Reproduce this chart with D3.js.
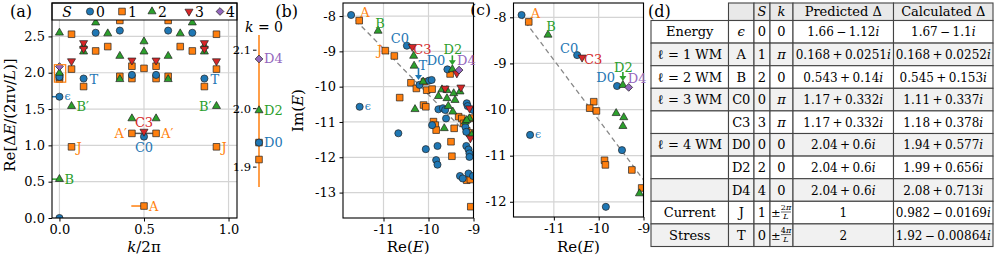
<!DOCTYPE html>
<html><head><meta charset="utf-8">
<script src="https://cdn.jsdelivr.net/npm/d3@7"></script>
<style>
body{margin:0;background:#fff;}
svg{display:block;}
</style></head><body>
<svg id="chart" width="995" height="260"></svg>
<script>
// ================= DATA =================
const spinLabels = ["0","1","2","3","4"];
const colors = ["#1f77b4","#ff7f0e","#2ca02c","#d62728","#9467bd"];
const L = 14;
// panel (a): [n, Re dE/(2pi v/L)], k/2pi = n/L ; n=1..6 mirrored to L-n
const aS0 = [[0,0.0],[0,1.67],[0,1.942],[2,1.92],[3,2.55],[5,2.58],[6,1.97],[7,1.12]];
const aS1 = [[0,1.913],[0,1.942],[1,2.53],[1,2.05],[1,0.98],[2,1.81],[3,2.30],[4,2.36],[5,1.95],[5,2.72],[6,2.09],[6,1.92],[6,1.165],[7,2.06],[7,0.165]];
const aS2 = [[0,0.535],[0,1.997],[0,2.55],[1,1.54],[2,2.37],[2,2.29],[3,2.69],[4,2.54],[5,2.23],[5,1.91],[6,1.37],[7,2.43],[7,2.29]];
const aS3 = [[1,2.16],[2,2.41],[2,2.33],[6,2.17],[7,1.19]];
const aS4 = [[0,2.085]];
const aXTicks = [0, 0.5, 1.0];
const aYTicks = [0, 0.5, 1.0, 1.5, 2.0, 2.5];
// inset (k = 0)
const insetTicks = [1.9, 2.0, 2.1];
const inS0 = [1.942], inS1 = [1.913, 1.942], inS2 = [1.997], inS4 = [2.085];
// panel (b): [Re E, Im E]
const bS0 = [[-11.72,-7.97],[-10.48,-8.84],[-10.20,-9.95],[-9.99,-9.83],[-9.93,-9.81],[-11.53,-10.57],[-10.67,-11.32],[-10.06,-11.77],[-9.80,-11.68],[-9.83,-12.08],[-9.80,-12.21],[-9.78,-10.64],[-9.92,-11.09],[-9.58,-9.51],[-9.68,-10.61],[-9.63,-10.66],[-9.61,-10.90],[-9.15,-10.47],[-9.13,-10.55],[-9.01,-10.66],[-9.18,-11.14],[-9.16,-11.28],[-9.16,-11.68],[-9.11,-11.78],[-9.09,-11.89],[-9.09,-11.99],[-9.30,-12.53],[-9.24,-12.60],[-9.11,-12.46],[-9.01,-12.53]];
const bS1 = [[-11.54,-8.13],[-10.96,-8.98],[-10.76,-9.13],[-10.39,-9.89],[-10.27,-10.05],[-10.04,-10.10],[-10.09,-9.86],[-10.64,-10.31],[-10.11,-10.52],[-10.06,-10.57],[-9.89,-10.99],[-9.85,-11.09],[-9.83,-11.23],[-9.52,-9.64],[-9.43,-11.18],[-9.33,-10.85],[-9.26,-10.90],[-9.22,-11.04],[-9.15,-11.25],[-9.09,-11.31],[-9.50,-11.56],[-9.48,-11.97],[-9.15,-12.65],[-9.07,-12.63],[-9.06,-13.40],[-9.92,-10.07],[-9.03,-10.89]];
const bS2 = [[-11.12,-8.42],[-10.33,-9.13],[-10.32,-9.41],[-10.12,-9.86],[-10.30,-10.64],[-9.78,-10.27],[-9.47,-9.51],[-9.70,-10.08],[-9.59,-10.10],[-9.44,-10.19],[-9.30,-10.14],[-9.59,-10.33],[-9.41,-10.38],[-9.56,-10.55],[-9.46,-10.71],[-9.65,-11.18],[-9.09,-10.90],[-9.18,-10.99],[-9.15,-10.95],[-9.04,-11.37]];
const bS3 = [[-10.36,-8.87],[-9.37,-9.62],[-9.63,-10.05],[-9.28,-10.02],[-9.09,-10.61],[-9.07,-11.46]];
const bS4 = [[-9.32,-9.53]];
// panel (c)
const cS0 = [[-11.72,-7.95],[-10.48,-8.82],[-9.59,-9.49],[-11.53,-10.55],[-9.48,-10.88],[-9.84,-12.11]];
const cS1 = [[-11.56,-8.10],[-10.11,-9.83],[-10.20,-9.97],[-10.05,-10.03],[-9.87,-11.10],[-9.85,-11.20],[-9.26,-11.31],[-9.04,-11.70]];
const cS2 = [[-11.13,-8.38],[-9.46,-9.47],[-9.61,-10.08],[-9.44,-10.17],[-9.46,-10.36],[-9.09,-11.82]];
const cS3 = [[-10.37,-8.87]];
const cS4 = [[-9.33,-9.52]];
const bXTicks = [-11, -10, -9];
const bYTicks = [-8, -9, -10, -11, -12, -13];
const cXTicks = [-11, -10, -9];
const cYTicks = [-8, -9, -10, -11, -12];
const trendLine = [[-11.75,-7.95],[-8.5,-12.175]];
// table (d)
const tblGroup = ["Energy","ℓ = 1 WM","ℓ = 2 WM","ℓ = 3 WM","","ℓ = 4 WM","","","Current","Stress"];
const tblId = ["ϵ","A","B","C0","C3","D0","D2","D4","J","T"];
const tblS = ["0","1","2","0","3","0","2","4","1","0"];
const tblK = ["0","π","0","π","π","0","0","0","±2π/L","±4π/L"];
const tblPred = ["1.66 − 1.12i","0.168 + 0.0251i","0.543 + 0.14i","1.17 + 0.332i","1.17 + 0.332i","2.04 + 0.6i","2.04 + 0.6i","2.04 + 0.6i","1","2"];
const tblCalc = ["1.67 − 1.1i","0.168 + 0.0252i","0.545 + 0.153i","1.11 + 0.337i","1.18 + 0.378i","1.94 + 0.577i","1.99 + 0.656i","2.08 + 0.713i","0.982 − 0.0169i","1.92 − 0.00864i"];
const tblHeader = ["", "S", "k", "Predicted Δ", "Calculated Δ"];

// ================= DRAWING =================
const FONT = "'DejaVu Serif','Liberation Serif',serif";
const svg = d3.select("#chart").attr("font-family", FONT);
const EDGE = "#222";

function symPath(s){
  if (s===0) return d3.symbol(d3.symbolCircle, 40)();
  if (s===1) return d3.symbol(d3.symbolSquare, 44)();
  if (s===2 || s===3) return d3.symbol(d3.symbolTriangle, 28)();
  return d3.symbol(d3.symbolSquare, 30)();
}
function symXf(s){ return s===3 ? " rotate(180)" : (s===4 ? " rotate(45)" : ""); }
function marker(g, x, y, s){
  g.append("path").attr("d", symPath(s))
   .attr("transform", `translate(${x},${y})` + symXf(s))
   .attr("fill", colors[s]).attr("stroke", EDGE).attr("stroke-width", 0.7);
}
function rich(g, x, y, str, opt){
  opt = opt || {};
  const t = g.append("text").attr("x", x).attr("y", y)
    .attr("text-anchor", opt.anchor || "middle")
    .attr("font-size", opt.size || 13)
    .attr("fill", opt.color || "#000");
  str.split("*").forEach((p,i) => { if (p.length) { const ts = t.append("tspan").text(p); if (i%2===1) ts.attr("font-style","italic"); } });
  return t;
}
function styleAxis(sel){
  sel.select(".domain").remove();
  sel.attr("font-family", null).attr("font-size", null);
  sel.selectAll("line").attr("stroke","#000").attr("stroke-width",1);
  sel.selectAll("text").attr("font-family",FONT).attr("font-size",13).attr("fill","#000");
}
function clip(id, x, y, w, h){
  svg.append("clipPath").attr("id", id).append("rect").attr("x",x).attr("y",y).attr("width",w).attr("height",h);
}
function grid(g, xs, ys, xt, yt){
  const [x0,x1] = xs.range(), [y0,y1] = ys.range();
  xt.forEach(v => g.append("line").attr("x1",xs(v)).attr("x2",xs(v)).attr("y1",y0).attr("y2",y1).attr("stroke","#d4d4d4").attr("stroke-width",1.2));
  yt.forEach(v => g.append("line").attr("x1",x0).attr("x2",x1).attr("y1",ys(v)).attr("y2",ys(v)).attr("stroke","#d4d4d4").attr("stroke-width",1.2));
}
function frame(xs, ys){
  const [x0,x1] = xs.range(), [y0,y1] = ys.range();
  svg.append("rect").attr("x",x0).attr("y",y1).attr("width",x1-x0).attr("height",y0-y1)
    .attr("fill","none").attr("stroke","#000").attr("stroke-width",1.1);
}
function arrow(g, x, yTail, yTip, color){
  g.append("line").attr("x1",x).attr("x2",x).attr("y1",yTail).attr("y2",yTip-4).attr("stroke",color).attr("stroke-width",1.6);
  g.append("path").attr("d",`M${x-3.5},${yTip-5} L${x+3.5},${yTip-5} L${x},${yTip} Z`).attr("fill",color);
}

// ---------- panel (a) ----------
const xA = d3.scaleLinear().domain([-0.044, 1.05]).range([52, 237]);
const yA = d3.scaleLinear().domain([0, 2.96]).range([218, 3]);
clip("clipA", 52, 3, 185, 215);
const gAgrid = svg.append("g");
grid(gAgrid, xA, yA, aXTicks, aYTicks);
const gA = svg.append("g").attr("clip-path","url(#clipA)");
function mirror(arr){
  const out = [];
  arr.forEach(([n,v]) => { out.push([n/L, v]); if (n>=1 && n<=6) out.push([(L-n)/L, v]); });
  return out;
}
function hbar(k0, k1, v, color){ gA.append("line").attr("x1",xA(k0)).attr("x2",xA(k1)).attr("y1",yA(v)).attr("y2",yA(v)).attr("stroke",color).attr("stroke-width",1.5); }
hbar(-0.06, 0, 1.67, colors[0]);
hbar(-0.06, 0, 0.535, colors[2]);
hbar(0.425, 0.5, 0.165, colors[1]);
hbar(6/L, 8/L, 1.165, "#555");
const aSeries = [aS0, aS1, aS2, aS3, aS4];
[1,0,2,3,4].forEach(s => mirror(aSeries[s]).forEach(([k,v]) => marker(gA, xA(k), yA(v), s)));
gA.append("rect").attr("x", xA(-0.03)).attr("y", yA(2.11)).attr("width", xA(0.037)-xA(-0.03)).attr("height", yA(1.87)-yA(2.11))
  .attr("fill","none").attr("stroke",colors[1]).attr("stroke-width",1.2);
// legend
const lg = svg.append("g");
lg.append("rect").attr("x",52).attr("y",3).attr("width",185).attr("height",17).attr("fill","#fff").attr("stroke","#000").attr("stroke-width",1);
rich(lg, 67, 16.5, "*S*", {size:14});
const legX = [90, 122, 152, 189, 220];
spinLabels.forEach((lab,i) => { marker(lg, legX[i], 11.5, i); rich(lg, legX[i]+6, 16.5, lab, {anchor:"start", size:14}); });
// axes
const axAx = svg.append("g").attr("transform","translate(0,218)")
  .call(d3.axisBottom(xA).tickValues(aXTicks).tickFormat(d3.format(".1f")).tickSize(3.5).tickPadding(3.5).tickSizeOuter(0));
styleAxis(axAx);
const axAy = svg.append("g").attr("transform","translate(52,0)")
  .call(d3.axisLeft(yA).tickValues(aYTicks).tickFormat(d3.format(".1f")).tickSize(3.5).tickPadding(3.5).tickSizeOuter(0));
styleAxis(axAy);
frame(xA, yA);
rich(svg, 144, 252, "*k*/2π", {size:15});
rich(svg, 0, 0, "Re[Δ*E*/(2π*v*/*L*)]", {size:15}).attr("transform","translate(15,115) rotate(-90)");
rich(svg, 10, 17, "(a)", {anchor:"start", size:16});
// labels (a)
const aLab = svg.append("g");
function labA(txt, k, v, dx, dy, c, anchor, size){ rich(aLab, xA(k)+dx, yA(v)+dy, txt, {anchor:anchor, color:colors[c], size:size||13}); }
labA("ϵ", 0, 1.67, 5, 3, 0, "start", 11);
labA("T", 2/L, 1.92, 6, 5, 0, "start");
labA("T", 12/L, 1.92, 6, 5, 0, "start");
labA("B′", 1/L, 1.54, 5, 5, 2, "start");
labA("B′", 13/L, 1.54, -5, 5, 2, "end");
labA("C3", 0.5, 1.19, 0, -5, 3, "middle");
labA("A′", 6/L, 1.165, -5, 5, 1, "end");
labA("A′", 8/L, 1.165, 5, 5, 1, "start");
labA("C0", 0.5, 1.12, 0, 15, 0, "middle");
labA("J", 1/L, 0.98, 5, 5, 1, "start");
labA("J", 13/L, 0.98, 5, 5, 1, "start");
labA("B", 0, 0.535, 5, 5, 2, "start");
labA("A", 0.5, 0.165, 5, 5, 1, "start");

// ---------- inset k=0 ----------
const yI = d3.scaleLinear().domain([1.866, 2.126]).range([187, 35]);
const xI = 259;
const gI = svg.append("g");
gI.append("line").attr("x1",xI).attr("x2",xI).attr("y1",yI.range()[0]).attr("y2",yI.range()[1]).attr("stroke",colors[1]).attr("stroke-width",1.5);
insetTicks.forEach(v => {
  gI.append("line").attr("x1",253).attr("x2",256.5).attr("y1",yI(v)).attr("y2",yI(v)).attr("stroke","#000").attr("stroke-width",1);
  rich(gI, 251, yI(v)+4, d3.format(".1f")(v), {anchor:"end", size:11.5});
});
inS1.forEach(v => marker(gI, xI, yI(v), 1));
inS0.forEach(v => marker(gI, xI, yI(v), 0));
inS2.forEach(v => marker(gI, xI, yI(v), 2));
inS4.forEach(v => marker(gI, xI, yI(v), 4));
rich(gI, 264, 32, "*k* = 0", {size:14});
rich(gI, 264, yI(2.085)+4.5, "D4", {anchor:"start", color:colors[4]});
rich(gI, 264, yI(1.997)+4.5, "D2", {anchor:"start", color:colors[2]});
rich(gI, 264, yI(1.942)+4.5, "D0", {anchor:"start", color:colors[0]});

// ---------- panels (b) and (c) ----------
function scatterPanel(id, xs, ys, xt, yt, series, showYLabel){
  const [x0,x1] = xs.range(), [y0,y1] = ys.range();
  clip(id, x0, y1, x1-x0, y0-y1);
  grid(svg.append("g"), xs, ys, xt, yt);
  const g = svg.append("g").attr("clip-path",`url(#${id})`);
  g.append("line").attr("x1",xs(trendLine[0][0])).attr("y1",ys(trendLine[0][1]))
    .attr("x2",xs(trendLine[1][0])).attr("y2",ys(trendLine[1][1]))
    .attr("stroke","#888").attr("stroke-width",1.3).attr("stroke-dasharray","5,3.5");
  [1,0,2,3,4].forEach(s => series[s].forEach(([re,im]) => marker(g, xs(re), ys(im), s)));
  const ax = svg.append("g").attr("transform",`translate(0,${y0})`)
    .call(d3.axisBottom(xs).tickValues(xt).tickFormat(d => String(d)).tickSize(3.5).tickPadding(3.5).tickSizeOuter(0));
  styleAxis(ax);
  const ay = svg.append("g").attr("transform",`translate(${x0},0)`)
    .call(d3.axisLeft(ys).tickValues(yt).tickFormat(d => String(d)).tickSize(3.5).tickPadding(3.5).tickSizeOuter(0));
  styleAxis(ay);
  frame(xs, ys);
  rich(svg, (x0+x1)/2, 252, "Re(*E*)", {size:15});
  if (showYLabel) rich(svg, 0, 0, "Im(*E*)", {size:15}).attr("transform",`translate(${x0-40},${(y0+y1)/2}) rotate(-90)`);
  return g;
}
const xB = d3.scaleLinear().domain([-11.9, -9.0]).range([343, 473.5]);
const yB = d3.scaleLinear().domain([-13.72, -7.63]).range([218, 3]);
scatterPanel("clipB", xB, yB, bXTicks, bYTicks, [bS0,bS1,bS2,bS3,bS4], true);
const xC = d3.scaleLinear().domain([-11.9, -9.0]).range([513.5, 643.5]);
const yC = d3.scaleLinear().domain([-12.33, -7.69]).range([217, 3]);
scatterPanel("clipC", xC, yC, cXTicks, cYTicks, [cS0,cS1,cS2,cS3,cS4], false);
rich(svg, 298, 17, "(b)", {anchor:"end", size:16});
rich(svg, 491, 15, "(c)", {anchor:"end", size:15.5});

const labG = svg.append("g");
function lab(xs, ys, txt, pt, dx, dy, c, anchor, size){ rich(labG, xs(pt[0])+dx, ys(pt[1])+dy, txt, {anchor:anchor, color:colors[c], size:size||13}); }
// (b)
lab(xB,yB,"A", bS1[0], 1, -4, 1, "start");
lab(xB,yB,"B", bS2[0], 2, -3, 2, "middle");
lab(xB,yB,"C0", bS0[1], -7, -3, 0, "middle");
lab(xB,yB,"C3", bS3[0], 1, 7, 3, "start");
lab(xB,yB,"J", bS1[1], -3, 4, 1, "end");
lab(xB,yB,"T", bS0[2], -1, -15, 0, "start");
lab(xB,yB,"ϵ", bS0[5], 5, 3.5, 0, "start", 11);
lab(xB,yB,"D0", bS0[13], -2, -4, 0, "end");
lab(xB,yB,"D2", bS2[6], 0.5, -15, 2, "middle");
lab(xB,yB,"D4", bS4[0], -2, -5, 4, "start");
arrow(labG, xB(bS0[2][0])-1, yB(bS0[2][1])-17, yB(bS0[2][1])-5, colors[0]);
arrow(labG, xB(bS2[6][0]), yB(bS2[6][1])-14, yB(bS2[6][1])-4, colors[2]);
// (c)
lab(xC,yC,"A", cS1[0], 2, -4, 1, "start");
lab(xC,yC,"B", cS2[0], 3, -3.5, 2, "middle");
lab(xC,yC,"C0", cS0[1], -8, -2, 0, "middle");
lab(xC,yC,"C3", cS3[0], 2, 7, 3, "start");
lab(xC,yC,"ϵ", cS0[3], 5, 3, 0, "start", 11);
lab(xC,yC,"D0", cS0[2], -2, -4, 0, "end");
lab(xC,yC,"D2", cS2[1], 0.5, -13, 2, "middle");
lab(xC,yC,"D4", cS4[0], -1, -4, 4, "start");
arrow(labG, xC(cS2[1][0]), yC(cS2[1][1])-13, yC(cS2[1][1])-4, colors[2]);

// ---------- table (d) ----------
rich(svg, 648, 17, "(d)", {anchor:"start", size:16});
const colX = [651, 728.5, 754, 770, 793, 893.5, 993];
const headTop = 3, headBot = 20.5, rowH = 22.6;
const gT = svg.append("g");
function cell(c, y0, h, fill){
  gT.append("rect").attr("x",colX[c]).attr("y",y0).attr("width",colX[c+1]-colX[c]).attr("height",h)
    .attr("fill",fill).attr("stroke","#444").attr("stroke-width",1.1);
}
for (let c=1; c<6; c++) cell(c, headTop, headBot-headTop, "#e9e9e9");
tblId.forEach((_,i) => { const y0 = headBot + i*rowH; for (let c=0;c<6;c++) cell(c, y0, rowH, i%2===1 ? "#f1f1f1" : "#ffffff"); });
const cx = c => (colX[c]+colX[c+1])/2;
const hb = (headTop+headBot)/2 + 4.5;
rich(gT, cx(2), hb, "*S*"); rich(gT, cx(3), hb, "*k*"); rich(gT, cx(4), hb, "Predicted Δ"); rich(gT, cx(5), hb, "Calculated Δ");
function cplx(s){
  const t = s.replace(" + ", "\u2009+\u2009").replace(" − ", "\u2009−\u2009");
  return t.endsWith("i") ? t.slice(0,-1) + "*i*" : t;
}
tblId.forEach((id,i) => {
  const yc = headBot + i*rowH + rowH/2, yb = yc + 4.5;
  if (tblGroup[i]) rich(gT, cx(0), yb, tblGroup[i]);
  rich(gT, cx(1), yb, id === "ϵ" ? "*ϵ*" : id);
  rich(gT, cx(2), yb, tblS[i]);
  const k = tblK[i];
  if (k.startsWith("±")) {
    rich(gT, colX[3]+1, yb, "±", {anchor:"start", size:11.5});
    const fx = colX[3] + 16;
    rich(gT, fx, yc-2.2, k.slice(1,2) + "*π*", {size:8});
    gT.append("line").attr("x1",fx-5).attr("x2",fx+5).attr("y1",yc-0.6).attr("y2",yc-0.6).attr("stroke","#000").attr("stroke-width",0.6);
    rich(gT, fx, yc+6.8, "*L*", {size:8});
  } else {
    rich(gT, cx(3), yb, k === "π" ? "*π*" : k);
  }
  rich(gT, cx(4), yb, cplx(tblPred[i]), {size:12});
  rich(gT, cx(5), yb, cplx(tblCalc[i]), {size:12});
});
</script>
</body></html>
